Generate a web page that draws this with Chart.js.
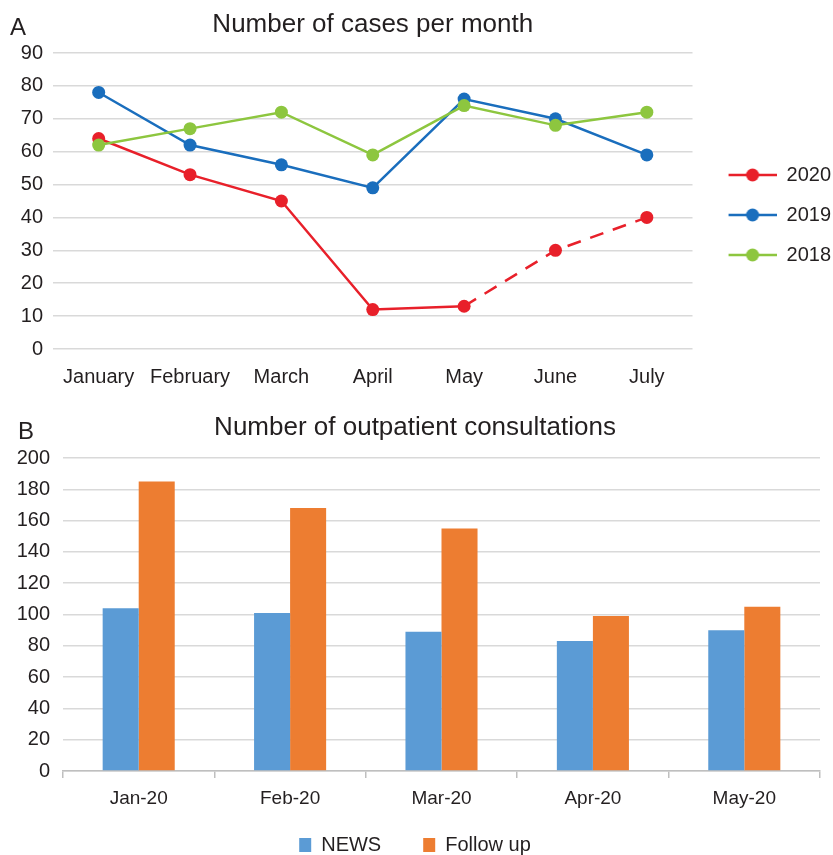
<!DOCTYPE html>
<html><head><meta charset="utf-8">
<script src="https://cdn.jsdelivr.net/npm/chart.js@4.4.0/dist/chart.umd.min.js"></script>
<style>
html,body{margin:0;padding:0;background:#fff;overflow:hidden;}
#wrap{position:relative;width:833px;height:855px;overflow:hidden;background:#fff;}
#c1{position:absolute;left:0;top:0;}
#c2{position:absolute;left:0;top:400px;}
.lab{position:absolute;font-family:"Liberation Sans",Arial,sans-serif;font-size:24px;color:#231f20;line-height:1;}
</style></head><body>
<div id="wrap">
<canvas id="c1" width="841" height="400"></canvas>
<canvas id="c2" width="833" height="465"></canvas>
<div class="lab" style="left:10px;top:15px">A</div>
<div class="lab" style="left:18px;top:419px">B</div>
</div>
<script>
// ---- Data: chart A ----
const months = ['January', 'February', 'March', 'April', 'May', 'June', 'July'];
const seriesNames = ['2020', '2019', '2018'];
const cases2020 = [64, 53, 45, 12, 13, 30, 40];
const cases2019 = [78, 62, 56, 49, 76, 70, 59];
const cases2018 = [62, 67, 72, 59, 74, 68, 72];
// ---- Data: chart B ----
const consultMonths = ['Jan-20', 'Feb-20', 'Mar-20', 'Apr-20', 'May-20'];
const barNames = ['NEWS', 'Follow up'];
const newsValues = [104, 101, 89, 83, 90];
const followUpValues = [185, 168, 155, 99, 105];

const TXT = '#231f20';
const GRID = '#d9d9d9';
const RED = '#E8202A', BLUE = '#1A6EBD', GREEN = '#8DC63F';
const C_NEWS = '#5B9BD5', C_FU = '#ED7D31';

Chart.defaults.font.family = '"Liberation Sans", Arial, sans-serif';
Chart.defaults.color = TXT;

function legendLine(color) {
  const c = document.createElement('canvas');
  c.width = 64; c.height = 20;
  const g = c.getContext('2d');
  g.strokeStyle = color; g.lineWidth = 2.5;
  g.beginPath(); g.moveTo(16, 10); g.lineTo(64, 10); g.stroke();
  g.fillStyle = color;
  g.beginPath(); g.arc(40, 10, 6.5, 0, Math.PI * 2); g.fill();
  return c;
}
const legendImgs = [legendLine(RED), legendLine(BLUE), legendLine(GREEN)];

function lineDs(label, data, color, order, extra) {
  return Object.assign({
    label, data, order,
    borderColor: color, backgroundColor: color,
    pointBackgroundColor: color, pointBorderColor: color,
    borderWidth: 2.5, pointRadius: 6.5, pointBorderWidth: 0, pointHoverRadius: 6.5,
    tension: 0, fill: false
  }, extra || {});
}

new Chart(document.getElementById('c1'), {
  type: 'line',
  data: {
    labels: months,
    datasets: [
      lineDs(seriesNames[0], cases2020, RED, 3, {
        segment: { borderDash: ctx => ctx.p0DataIndex >= 4 ? [14, 10] : undefined }
      }),
      lineDs(seriesNames[1], cases2019, BLUE, 2),
      lineDs(seriesNames[2], cases2018, GREEN, 1)
    ]
  },
  options: {
    responsive: false, animation: false,
    layout: { padding: { left: 0, right: 0, top: 0, bottom: 0 } },
    plugins: {
      tooltip: { enabled: false },
      title: {
        display: true, text: 'Number of cases per month', fullSize: false,
        font: { size: 26, weight: 'normal' }, color: TXT,
        padding: { top: 9.4, bottom: 12.4 }
      },
      legend: {
        position: 'right', align: 'center',
        title: { display: true, text: '', font: { size: 20 }, padding: 3 },
        labels: {
          usePointStyle: true, pointStyleWidth: 64, boxHeight: 20,
          padding: 20, font: { size: 20 }, color: TXT,
          sort: (a, b) => a.datasetIndex - b.datasetIndex,
          generateLabels: chart => {
            const items = Chart.defaults.plugins.legend.labels.generateLabels(chart);
            items.forEach(it => { it.pointStyle = legendImgs[it.datasetIndex]; it.lineWidth = 0; });
            items.sort((a, b) => a.datasetIndex - b.datasetIndex);
            return items;
          }
        }
      }
    },
    scales: {
      x: {
        offset: true,
        grid: { display: false, offset: true }, border: { display: false },
        ticks: { font: { size: 20 }, color: TXT, padding: 8, maxRotation: 0, autoSkip: false },
        afterFit: s => { s.height = 51; }
      },
      y: {
        min: 0, max: 90,
        ticks: { stepSize: 10, font: { size: 20 }, color: TXT, padding: 10 },
        grid: { color: GRID, lineWidth: 1.5, drawTicks: false },
        border: { display: false },
        afterFit: s => { s.width = 53; }
      }
    }
  }
});

new Chart(document.getElementById('c2'), {
  type: 'bar',
  data: {
    labels: consultMonths,
    datasets: [
      { label: barNames[0], data: newsValues, backgroundColor: C_NEWS, borderWidth: 0 },
      { label: barNames[1], data: followUpValues, backgroundColor: C_FU, borderWidth: 0 }
    ]
  },
  options: {
    responsive: false, animation: false,
    barPercentage: 1, categoryPercentage: 0.476,
    layout: { padding: { left: 10, right: 13, top: 0, bottom: 0 } },
    plugins: {
      tooltip: { enabled: false },
      title: {
        display: true, text: 'Number of outpatient consultations',
        font: { size: 26, weight: 'normal' }, color: TXT,
        padding: { top: 12.4, bottom: 14.4 }
      },
      legend: {
        position: 'bottom',
        labels: { boxWidth: 12, boxHeight: 14, padding: 42, font: { size: 20 }, color: TXT }
      }
    },
    scales: {
      x: {
        grid: { display: true, drawOnChartArea: false, drawTicks: true, tickLength: 7, color: '#bfbfbf', lineWidth: 1.5 },
        border: { display: true, color: '#bfbfbf', width: 1.5 },
        ticks: { font: { size: 19 }, color: TXT, padding: 9, maxRotation: 0 },
        afterFit: s => { s.height = 22; s._computeLabelArea = () => undefined; }
      },
      y: {
        min: 0, max: 200,
        ticks: { stepSize: 20, font: { size: 20 }, color: TXT, padding: 13 },
        grid: { color: GRID, lineWidth: 1.5, drawTicks: false },
        border: { display: false },
        afterFit: s => { s.width = 53; }
      }
    }
  }
});
</script>
</body></html>
